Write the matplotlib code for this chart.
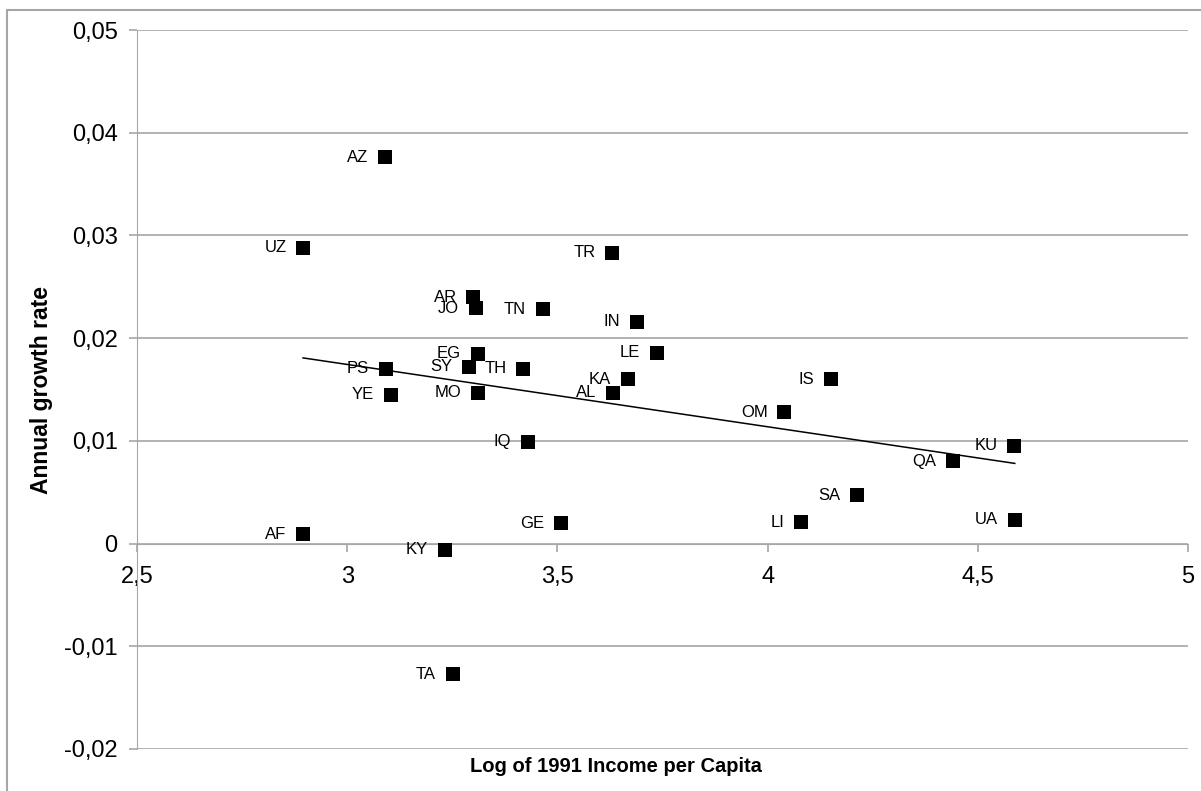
import numpy as np
import matplotlib
matplotlib.use("Agg")
from matplotlib import pyplot as plt
from matplotlib.lines import Line2D
from matplotlib.ticker import FuncFormatter

plt.rcParams['font.family'] = ['Liberation Sans', 'DejaVu Sans']

# country codes, log income 1991, annual growth rate
codes = ["AZ", "UZ", "TR", "AR", "JO", "TN", "IN", "EG", "LE", "PS", "SY", "TH",
         "KA", "IS", "YE", "MO", "AL", "OM", "IQ", "KU", "QA", "SA", "UA", "LI",
         "GE", "AF", "KY", "TA"]
log_income = [3.09, 2.895, 3.63, 3.30, 3.306, 3.465, 3.69, 3.31, 3.737, 3.092, 3.29, 3.418,
              3.668, 4.15, 3.104, 3.311, 3.632, 4.04, 3.43, 4.586, 4.44, 4.212, 4.588, 4.079,
              3.508, 2.895, 3.232, 3.251]
growth = [0.0376, 0.0288, 0.0283, 0.0240, 0.0229, 0.0228, 0.0216, 0.0185, 0.0186, 0.0170,
          0.0172, 0.0170, 0.0160, 0.0160, 0.0145, 0.0147, 0.0147, 0.0128, 0.0099, 0.0095,
          0.0080, 0.0047, 0.0023, 0.0021, 0.0020, 0.0009, -0.0006, -0.0127]

x = np.array(log_income)
y = np.array(growth)

fig = plt.figure(figsize=(12.01, 7.91), dpi=100)
ax = fig.add_axes([137/1201, 1-749/791, (1188-137)/1201, (749-30)/791])

gray = "#a6a6a6"

# linear trend line (excel style)
slope, icpt = np.polyfit(x, y, 1)
xs = np.array([x.min(), x.max()])
ax.plot(xs, slope*xs + icpt, color="black", lw=1.1, zorder=2)

ax.scatter(x, y, marker="s", s=115, color="black", zorder=3, linewidths=0)
for c, xi, yi in zip(codes, x, y):
    ax.annotate(c, (xi, yi), xytext=(-12, 0), textcoords="offset points",
                ha="right", va="center", fontsize=12, zorder=4)

ax.set_xlim(2.5, 5)
ax.set_ylim(-0.02, 0.05)
ax.set_xticks([2.5, 3, 3.5, 4, 4.5, 5])
ax.set_yticks(np.arange(-0.02, 0.0501, 0.01))
fmt = lambda v, p: ("%g" % round(v, 4)).replace(".", ",")
ax.xaxis.set_major_formatter(FuncFormatter(fmt))
ax.yaxis.set_major_formatter(FuncFormatter(fmt))

ax.yaxis.grid(True, color=gray, lw=1.2)
ax.set_axisbelow(True)
ax.spines["top"].set_visible(False)
ax.spines["right"].set_visible(False)
ax.spines["left"].set_color(gray)
ax.spines["bottom"].set_position(("data", 0))
ax.spines["bottom"].set_color(gray)
ax.tick_params(axis="both", colors=gray, labelcolor="black", labelsize=17, length=6, width=1.2)
ax.tick_params(axis="x", pad=10)
ax.tick_params(axis="y", pad=8)

fig.text(42/1201, 1-390/791, "Annual growth rate", rotation=90, ha="center", va="center",
         fontsize=16.5, fontweight="bold")
fig.text(616/1201, 1-767/791, "Log of 1991 Income per Capita", ha="center", va="center",
         fontsize=14.5, fontweight="bold")

# outer chart frame
fig.add_artist(Line2D([7/1201, 1], [1-10/791, 1-10/791], color=gray, lw=1.5))
fig.add_artist(Line2D([7/1201, 7/1201], [0, 1-10/791], color=gray, lw=1.5))

fig.savefig("out.png", dpi=100)
